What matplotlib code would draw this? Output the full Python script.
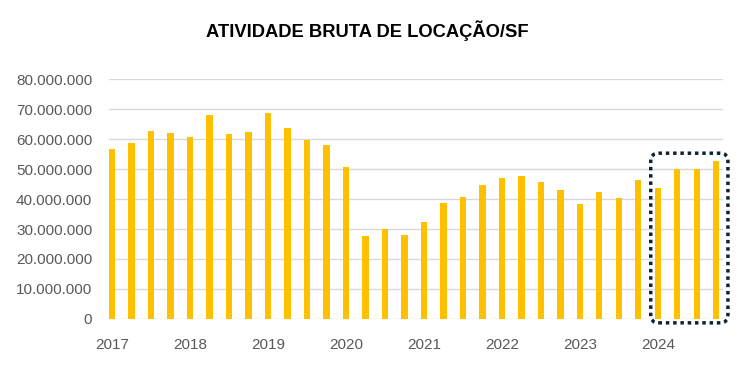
import matplotlib
matplotlib.use("Agg")
import matplotlib.pyplot as plt
from matplotlib.patches import FancyBboxPatch
from matplotlib.ticker import FuncFormatter, MultipleLocator

plt.rcParams['font.family'] = ['Liberation Sans', 'DejaVu Sans']

# quarterly gross leasing activity, 2017 Q1 .. 2024 Q4 (values in millions)
years = ['2017', '2018', '2019', '2020', '2021', '2022', '2023', '2024']
values_m = [56.6, 58.8, 62.7, 62.1,
            60.8, 68.2, 61.7, 62.4,
            68.7, 63.7, 59.7, 57.9,
            50.7, 27.8, 30.0, 28.0,
            32.4, 38.7, 40.8, 44.6,
            46.9, 47.8, 45.8, 42.9,
            38.2, 42.4, 40.4, 46.3,
            43.7, 50.0, 50.0, 52.7]
highlight_first = 28  # bars of 2024 are boxed

values = [v * 1e6 for v in values_m]
x = list(range(len(values)))

fig = plt.figure(figsize=(7.52, 3.70), dpi=100)
ax = fig.add_axes([0.145, 0.138, 0.816, 0.648])

ax.bar(x, values, width=0.33, color='#FFC000', zorder=3)

ax.set_xlim(-0.15, 31.33)
ax.set_ylim(0, 80e6)
ax.yaxis.set_major_locator(MultipleLocator(10e6))
ax.yaxis.set_major_formatter(FuncFormatter(lambda v, p: f"{int(round(v)):,}".replace(',', '.')))
ax.set_xticks([i * 4 for i in range(len(years))])
ax.set_xticklabels(years)

ax.grid(axis='y', color='#d9d9d9', linewidth=1.0, zorder=0)
for s in ax.spines.values():
    s.set_visible(False)
ax.tick_params(axis='both', length=0, labelsize=11, labelcolor='#595959')
ax.tick_params(axis='y', pad=12)
ax.tick_params(axis='x', pad=14)

# dotted rounded frame around 2024
x0 = highlight_first - 0.36
box = FancyBboxPatch((x0, -1.3e6), 31.6 - x0, 56.6e6,
                     boxstyle="round,pad=0,rounding_size=0.4",
                     mutation_aspect=6.5e6,
                     fill=False, edgecolor='#0e2233', linewidth=2.5,
                     linestyle=(0, (1, 1.1)), clip_on=False, zorder=4)
ax.add_patch(box)

fig.text(0.488, 0.916, 'ATIVIDADE BRUTA DE LOCAÇÃO/SF', ha='center', va='center',
         fontsize=13.2, fontweight='bold', color='#000000')

fig.savefig('out.png', dpi=100)
